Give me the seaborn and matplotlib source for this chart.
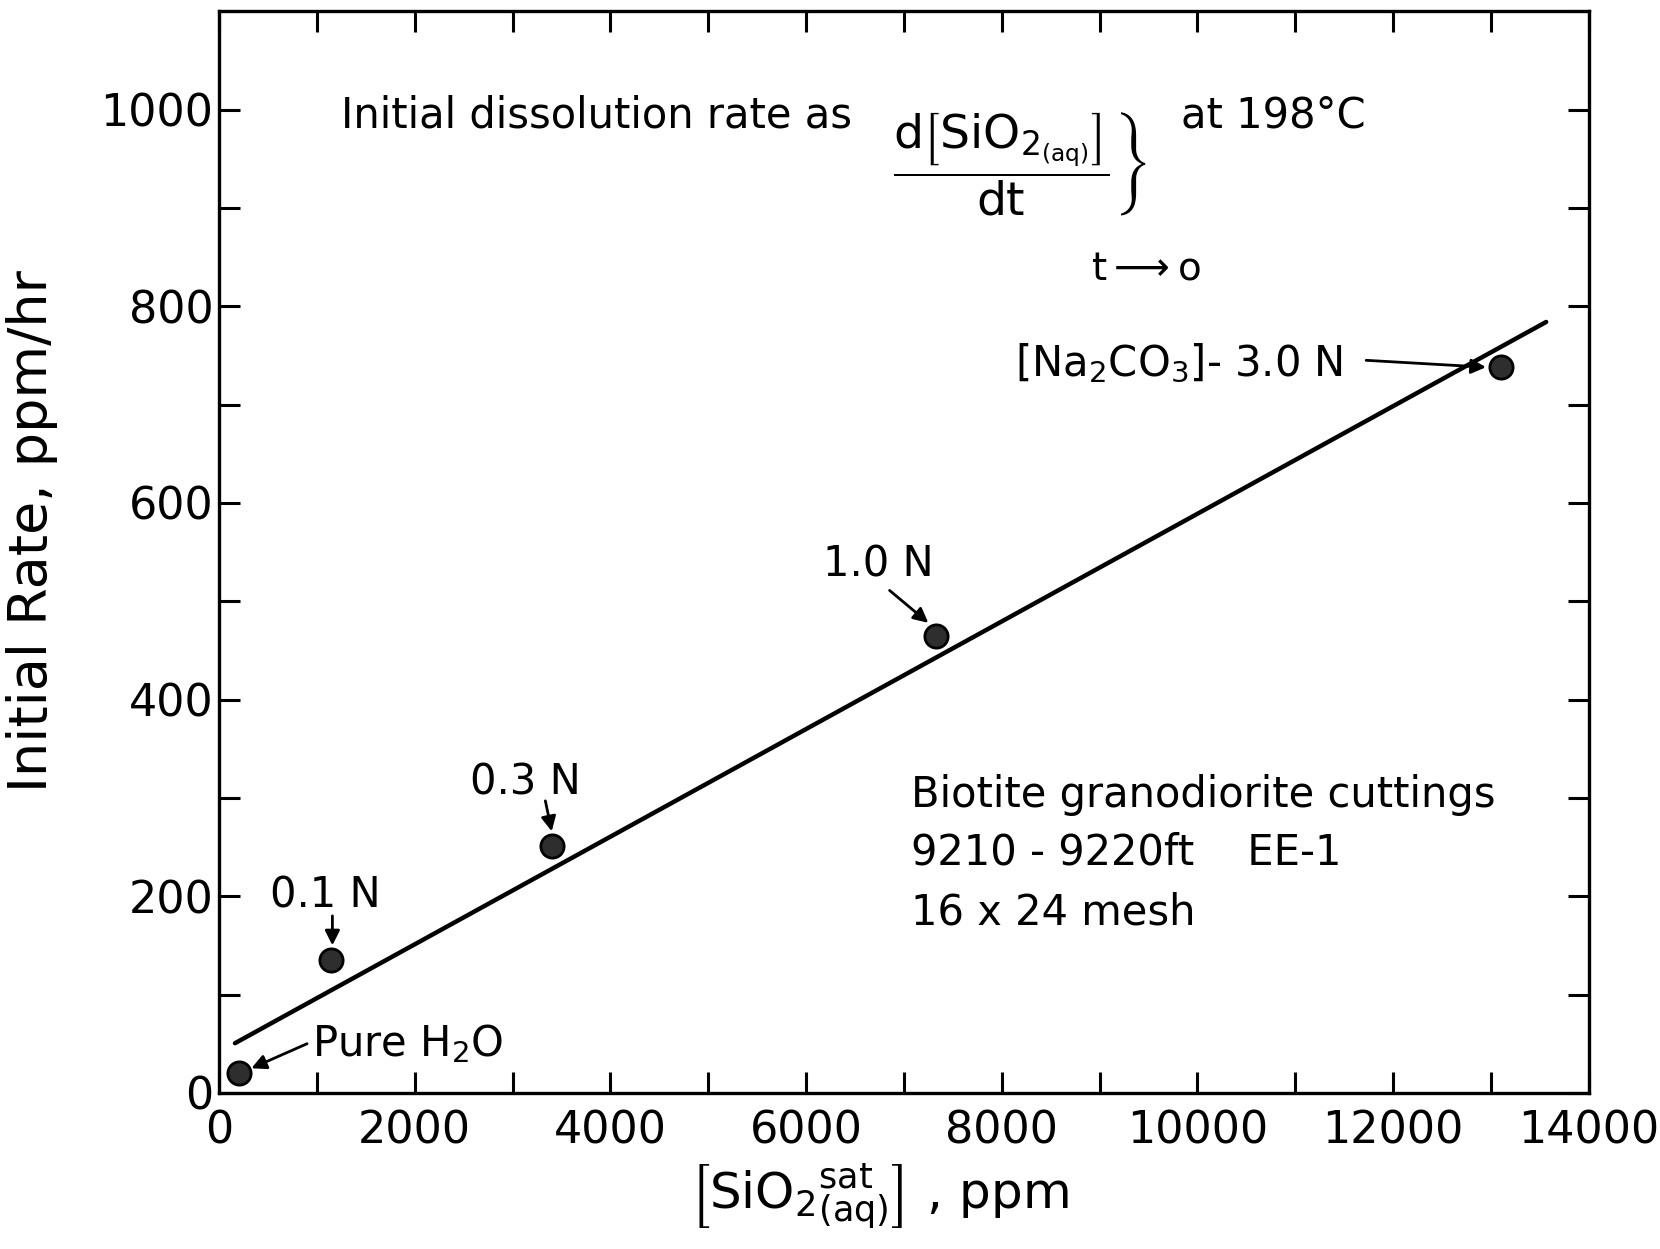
import matplotlib
matplotlib.use("Agg")
import matplotlib.pyplot as plt
from matplotlib.ticker import MultipleLocator
import seaborn as sns
import pandas as pd

# ---- data ----
labels = ["Pure H$_2$O", "0.1 N", "0.3 N", "1.0 N",
          r"$\left[\mathrm{Na_2CO_3}\right]$- 3.0 N"]
sio2_sat = [206, 1148, 3400, 7330, 13100]      # ppm
init_rate = [20, 135, 251, 465, 738]            # ppm/hr
fit_x = [162, 13566]
fit_y = [50.5, 784]

x_ticks = [0, 2000, 4000, 6000, 8000, 10000, 12000, 14000]
y_ticks = [0, 200, 400, 600, 800, 1000]

sns.set_style("ticks")
plt.rcParams["font.family"] = ["DejaVu Sans"]
plt.rcParams["mathtext.fontset"] = "dejavusans"
for k in ["text.color", "axes.labelcolor", "xtick.color", "ytick.color",
          "axes.edgecolor"]:
    plt.rcParams[k] = "black"

fig = plt.figure(figsize=(16.6, 12.49), dpi=100)
ax = fig.add_axes([0.132, 0.125, 0.825, 0.866])

df = pd.DataFrame({"x": sio2_sat, "y": init_rate})
fit = pd.DataFrame({"x": fit_x, "y": fit_y})

sns.lineplot(data=fit, x="x", y="y", ax=ax, color="black", linewidth=3.2)
sns.scatterplot(data=df, x="x", y="y", ax=ax, s=280, color="#2e2e2e",
                edgecolor="black", linewidth=2, zorder=5)

ax.set_xlim(0, 14000)
ax.set_ylim(0, 1100)
ax.set_xticks(x_ticks)
ax.set_yticks(y_ticks)
ax.xaxis.set_minor_locator(MultipleLocator(1000))
ax.yaxis.set_minor_locator(MultipleLocator(100))
ax.tick_params(which="both", direction="in", length=15, width=2.2,
               top=True, right=True, labelsize=32)
ax.tick_params(axis="x", pad=12)
ax.tick_params(axis="y", pad=4)
for sp in ax.spines.values():
    sp.set_linewidth(2.4)
    sp.set_color("black")

ax.set_ylabel("Initial Rate, ppm/hr", fontsize=39)
ax.yaxis.set_label_coords(-0.118, 0.519)
ax.set_xlabel(r"$\left[\mathrm{SiO}_{2}{}^{\mathrm{sat}}_{\mathrm{(aq)}}\right]$ , ppm",
              fontsize=36)
ax.xaxis.set_label_coords(0.482, -0.064)

# header annotation
ax.text(1245, 994, "Initial dissolution rate as", fontsize=30, va="center", ha="left")
ax.text(6886, 945,
        r"$\left.\dfrac{\mathrm{d}\left[\mathrm{SiO}_{2_{\mathrm{(aq)}}}\right]}{\mathrm{dt}}\right\}$",
        fontsize=34, va="center", ha="left")
ax.text(9831, 994, "at 198°C", fontsize=30, va="center", ha="left")
ax.text(9474, 838, r"t$\longrightarrow$o", fontsize=28, va="center", ha="center")

# sample description
ax.text(7070, 303, "Biotite granodiorite cuttings", fontsize=30, va="center")
ax.text(7070, 244, "9210 - 9220ft    EE-1", fontsize=30, va="center")
ax.text(7070, 183, "16 x 24 mesh", fontsize=30, va="center")

# point labels and arrows
lab_pos = [(953, 50), (1083, 201), (3129, 316), (6735, 537), (8131, 742)]
lab_ha = ["left", "center", "center", "center", "left"]
tails = [(899, 50), (1158, 180), (3335, 297), (6854, 511), (11726, 745)]
heads = [(330, 25), (1158, 150), (3400, 266), (7250, 478), (12950, 738)]
for lab, (tx, ty), ha, tail, head in zip(labels, lab_pos, lab_ha, tails, heads):
    ax.text(tx, ty, lab, fontsize=30, va="center", ha=ha)
    ax.annotate("", xy=head, xytext=tail,
                arrowprops=dict(arrowstyle="-|>", color="black", lw=2,
                                mutation_scale=22, shrinkA=0, shrinkB=0))

fig.savefig("out.png", dpi=100, facecolor="white")
